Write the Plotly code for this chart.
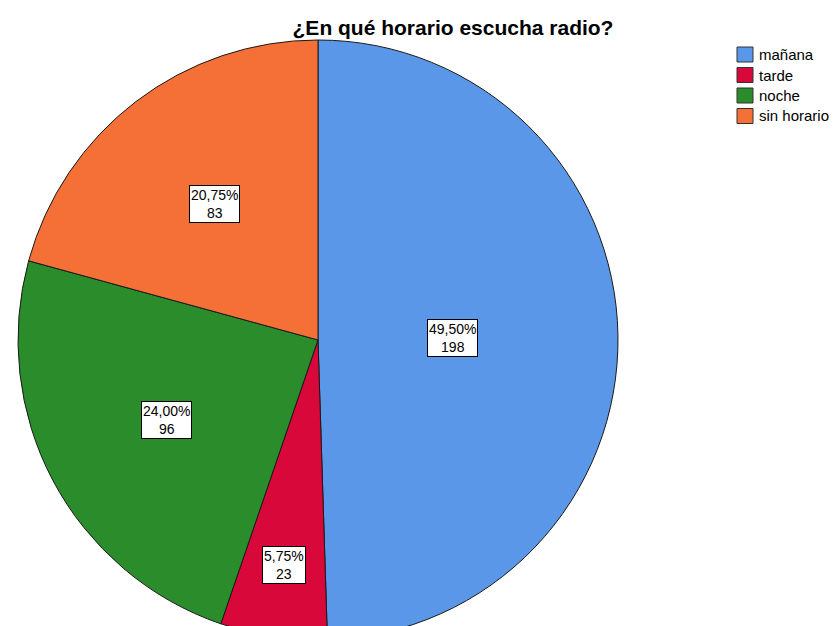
import math
import plotly.graph_objects as go

categories = ["mañana", "tarde", "noche", "sin horario"]
counts = [198, 23, 96, 83]
percent_labels = ["49,50%", "5,75%", "24,00%", "20,75%"]
colors = ["#5A97E8", "#D9083B", "#2A8C2A", "#F47036"]
label_radius_frac = [0.45, 0.76, 0.57, 0.57]

W, H = 840, 650
cx, cy, r = 318, 340, 300
FONT = "Arial, Liberation Sans, sans-serif"

fig = go.Figure(go.Pie(
    labels=categories,
    values=counts,
    sort=False,
    direction="clockwise",
    rotation=0,
    marker=dict(colors=colors, line=dict(color="#1a1a1a", width=1)),
    textinfo="none",
    hoverinfo="label+value+percent",
    showlegend=False,
    domain=dict(x=[(cx - r) / W, (cx + r) / W],
                y=[(H - (cy + r)) / H, (H - (cy - r)) / H]),
))

total = sum(counts)
cum = 0
annotations = []
for i, v in enumerate(counts):
    mid = (cum + v / 2) / total * 2 * math.pi
    cum += v
    d = label_radius_frac[i] * r
    px = cx + d * math.sin(mid)
    py = cy - d * math.cos(mid)
    annotations.append(dict(
        x=px / W, y=1 - py / H, xref="paper", yref="paper",
        text=f"{percent_labels[i]}<br>{counts[i]}",
        showarrow=False, align="center",
        font=dict(family=FONT, size=14, color="#000"),
        bgcolor="white", bordercolor="#000", borderwidth=1, borderpad=1,
        xanchor="center", yanchor="middle",
    ))

# legend (drawn manually to match spacing)
shapes = []
leg_x0, leg_y0, sq_w, sq_h, step = 737, 47, 16, 15, 20.5
for i, (name, col) in enumerate(zip(categories, colors)):
    top = leg_y0 + i * step
    shapes.append(dict(type="rect", xref="paper", yref="paper",
                       x0=leg_x0 / W, x1=(leg_x0 + sq_w) / W,
                       y0=1 - (top + sq_h) / H, y1=1 - top / H,
                       fillcolor=col, line=dict(color="#333", width=1)))
    annotations.append(dict(
        x=(leg_x0 + sq_w + 4) / W, y=1 - (top + sq_h / 2) / H,
        xref="paper", yref="paper", text=name, showarrow=False,
        xanchor="left", yanchor="middle",
        font=dict(family=FONT, size=15, color="#000"),
    ))

fig.update_layout(
    width=W, height=H,
    margin=dict(l=0, r=0, t=0, b=0),
    paper_bgcolor="white",
    showlegend=False,
    title=dict(text="<b>¿En qué horario escucha radio?</b>",
               x=453 / W, xanchor="center", y=1 - 28 / H, yanchor="middle",
               font=dict(family=FONT, size=21, color="#000")),
    annotations=annotations,
    shapes=shapes,
)

fig.write_html("out.html",
               post_script="document.body.style.margin='0';document.body.style.overflow='hidden';document.documentElement.style.overflow='hidden';")
